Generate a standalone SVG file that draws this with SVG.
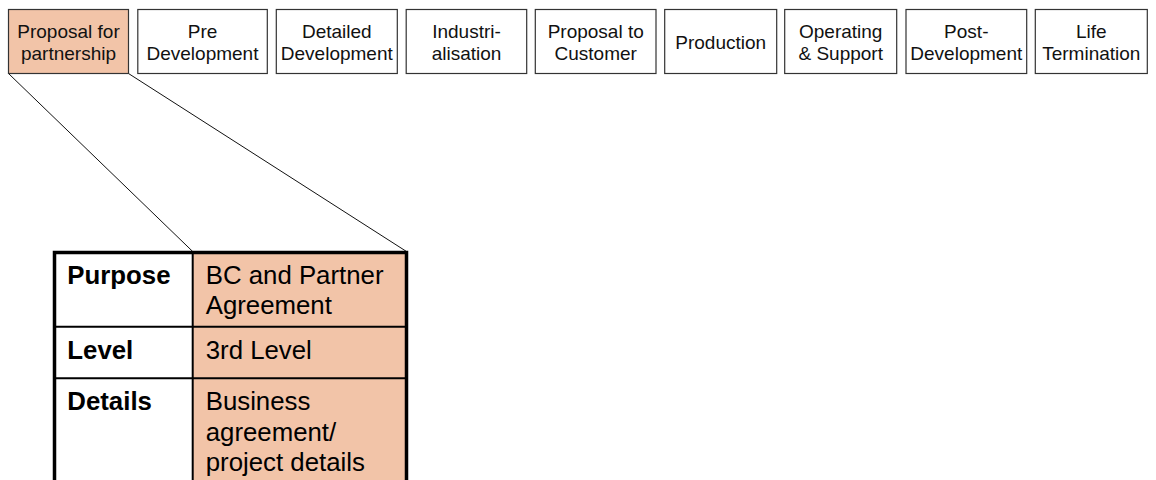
<svg xmlns="http://www.w3.org/2000/svg" width="1156" height="480" viewBox="0 0 1156 480">
<style>
.box{fill:#ffffff;stroke:#333333;stroke-width:1.2}
.hl{fill:#F2C4A8}
.t{font-family:"Liberation Sans",Arial,sans-serif;font-size:19px;fill:#111111;text-anchor:middle}
.tt{font-family:"Liberation Sans",Arial,sans-serif;font-size:25.8px;fill:#000000}
.b{font-weight:bold}
.conn{stroke:#111111;stroke-width:1;fill:none}
</style>
<rect width="1156" height="480" fill="#ffffff"/>
<g id="connectors">
<line class="conn" x1="8.5" y1="73.5" x2="192.7" y2="251.5"/>
<line class="conn" x1="128.5" y1="73.5" x2="406.5" y2="251.5"/>
</g>
<g id="n1"><rect class="box hl" x="8.5" y="9.5" width="120" height="64"/><text class="t" x="68.5" y="38">Proposal for</text><text class="t" x="68.5" y="60">partnership</text></g>
<g id="n2"><rect class="box" x="137.8" y="9.5" width="129.5" height="64"/><text class="t" x="202.5" y="38">Pre</text><text class="t" x="202.5" y="60">Development</text></g>
<g id="n3"><rect class="box" x="276.3" y="9.5" width="121" height="64"/><text class="t" x="336.8" y="38">Detailed</text><text class="t" x="336.8" y="60">Development</text></g>
<g id="n4"><rect class="box" x="406.2" y="9.5" width="120.5" height="64"/><text class="t" x="466.5" y="38">Industri-</text><text class="t" x="466.5" y="60">alisation</text></g>
<g id="n5"><rect class="box" x="535.3" y="9.5" width="120.7" height="64"/><text class="t" x="595.7" y="38">Proposal to</text><text class="t" x="595.7" y="60">Customer</text></g>
<g id="n6"><rect class="box" x="664.7" y="9.5" width="112" height="64"/><text class="t" x="720.7" y="49">Production</text></g>
<g id="n7"><rect class="box" x="784.7" y="9.5" width="112" height="64"/><text class="t" x="840.7" y="38">Operating</text><text class="t" x="840.7" y="60">&amp; Support</text></g>
<g id="n8"><rect class="box" x="906" y="9.5" width="120.7" height="64"/><text class="t" x="966.3" y="38">Post-</text><text class="t" x="966.3" y="60">Development</text></g>
<g id="n9"><rect class="box" x="1035.3" y="9.5" width="112" height="64"/><text class="t" x="1091.3" y="38">Life</text><text class="t" x="1091.3" y="60">Termination</text></g>
<g id="table">
<rect x="192.7" y="252" width="214" height="240" fill="#F2C4A8"/>
<line x1="192.7" y1="252" x2="192.7" y2="490" stroke="#000" stroke-width="2"/>
<line x1="54" y1="326.7" x2="406" y2="326.7" stroke="#000" stroke-width="2"/>
<line x1="54" y1="378.3" x2="406" y2="378.3" stroke="#000" stroke-width="2"/>
<rect x="54.5" y="252.5" width="352" height="260" fill="none" stroke="#000" stroke-width="3.5"/>
<text class="tt b" x="67.3" y="284">Purpose</text>
<text class="tt" x="205.7" y="284">BC and Partner</text>
<text class="tt" x="205.7" y="314">Agreement</text>
<text class="tt b" x="67.3" y="358.5">Level</text>
<text class="tt" x="205.7" y="358.5">3rd Level</text>
<text class="tt b" x="67.3" y="410">Details</text>
<text class="tt" x="205.7" y="410">Business</text>
<text class="tt" x="205.7" y="440.5">agreement/</text>
<text class="tt" x="205.7" y="471">project details</text>
</g>
</svg>
